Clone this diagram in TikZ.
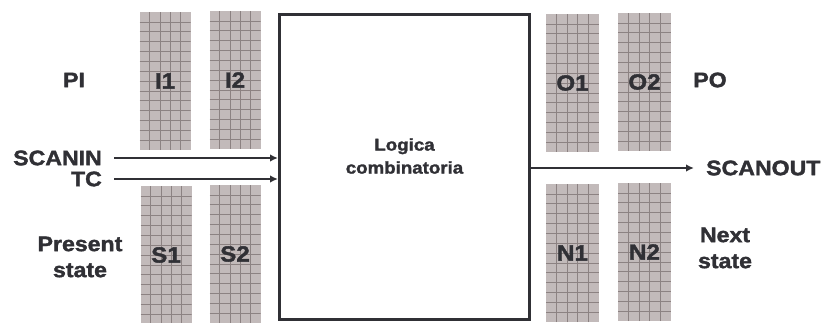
\documentclass[tikz,border=0pt]{standalone}
\usepackage{fontspec}
\setmainfont{Liberation Sans}
\newfontfamily\heavy[FakeBold=1.7,FakeStretch=1.1]{Liberation Sans Bold}
\usetikzlibrary{arrows.meta,calc}
\definecolor{ink}{HTML}{303035}
\definecolor{regfill}{HTML}{C2BABA}
\definecolor{regline}{HTML}{8C8282}
\tikzset{
  lbl/.style={font=\heavy\fontsize{21}{26}\selectfont, text=ink, inner sep=0pt, align=center},
  reg/.style={draw=none, fill=regfill, minimum width=51pt, minimum height=138pt, inner sep=0pt,
    font=\heavy\fontsize{22}{22}\selectfont, text=ink,
    path picture={
      \foreach \i in {1,...,4}{\draw[regline, line width=0.7pt]
        ($(path picture bounding box.south west)!\i/5!(path picture bounding box.south east)$) --
        ($(path picture bounding box.north west)!\i/5!(path picture bounding box.north east)$);}
      \foreach \j in {1,...,13}{\draw[regline, line width=0.7pt]
        ($(path picture bounding box.south west)!\j/14!(path picture bounding box.north west)$) --
        ($(path picture bounding box.south east)!\j/14!(path picture bounding box.north east)$);}
    }},
  arr/.style={draw=ink, line width=2.8pt, -{Latex[length=8pt,width=7.5pt]}},
}
\begin{document}
\begin{tikzpicture}[x=1pt,y=-1pt]
\useasboundingbox (0,0) rectangle (826,323);
% registers
\node[reg] (i1) at (165,81) {I1};
\node[reg] (i2) at (235,80) {I2};
\node[reg] (s1) at (166,255) {S1};
\node[reg] (s2) at (235,254) {S2};
\node[reg, minimum width=53pt] (o1) at (572.5,83) {O1};
\node[reg, minimum width=53pt] (o2) at (644.5,82) {O2};
\node[reg, minimum width=53pt] (n1) at (572.5,253) {N1};
\node[reg, minimum width=53pt] (n2) at (644.5,252) {N2};
% main block
\node[draw=ink, line width=3pt, minimum width=250pt, minimum height=305pt, fill=white, inner sep=0pt]
  (box) at (404.5,167) {};
\node[font=\heavy\fontsize{17}{23}\selectfont, text=ink, align=center, inner sep=0pt]
  (logic) at (box.center |- 0,156) {Logica\\combinatoria};
% labels
\node[lbl] (pi) at (74,80) {PI};
\node[lbl, anchor=east] (scanin) at (102,158) {SCANIN};
\node[lbl, anchor=east] (tc) at (102,179) {TC};
\node[lbl] (ps) at (80,257) {Present\\state};
\node[lbl] (po) at (710,80) {PO};
\node[lbl, anchor=west] (scanout) at (706,168) {SCANOUT};
\node[lbl] (ns) at (725,248) {Next\\state};
% connectors
\draw[arr] ([xshift=12pt]scanin.east) -- (scanin.east -| box.west);
\draw[arr] ([xshift=12pt]tc.east) -- (tc.east -| box.west);
\draw[arr] (scanout.west -| box.east) -- ([xshift=-12pt]scanout.west);
\end{tikzpicture}
\end{document}
